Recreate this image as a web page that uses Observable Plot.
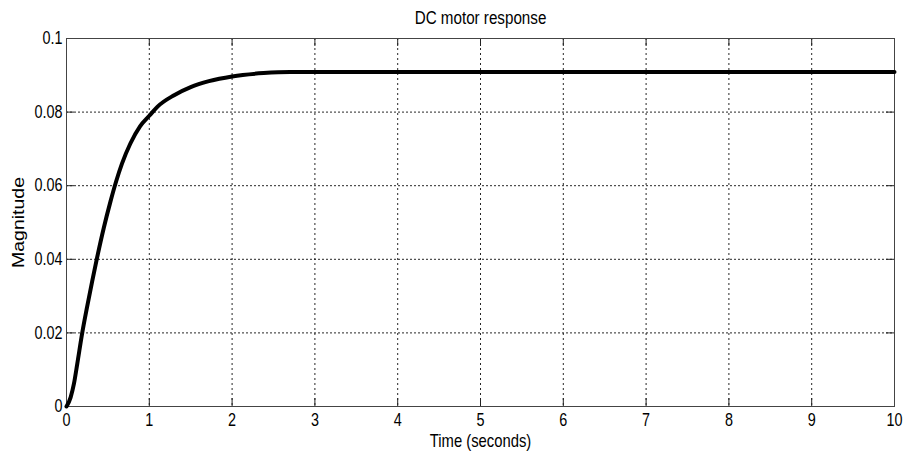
<!DOCTYPE html>
<html>
<head>
<meta charset="utf-8">
<script src="https://cdn.jsdelivr.net/npm/d3@7"></script>
<script src="https://cdn.jsdelivr.net/npm/@observablehq/plot@0.6"></script>
<style>
  html, body { margin: 0; padding: 0; background: #fff; overflow: hidden; }
</style>
</head>
<body>
<div id="chart"></div>
<script>
// Step response
const timeSeconds = [0, 0.05, 0.09, 0.13, 0.19, 0.25, 0.31, 0.37, 0.45, 0.53, 0.60, 0.67, 0.77, 0.89, 1.00, 1.10, 1.30, 1.50, 1.72, 2.00, 2.38, 2.70, 3.00, 4, 5, 6, 7, 8, 9, 10];
const magnitude   = [0, 0.0025, 0.0062, 0.0116, 0.0200, 0.0272, 0.0340, 0.0405, 0.0485, 0.0556, 0.0612, 0.0660, 0.0714, 0.0762, 0.0790, 0.0815, 0.0846, 0.0868, 0.0884, 0.0897, 0.0906, 0.0909, 0.0909, 0.0909, 0.0909, 0.0909, 0.0909, 0.0909, 0.0909, 0.0909];

const xTicks = [0, 1, 2, 3, 4, 5, 6, 7, 8, 9, 10];
const xTickLabels = ["0", "1", "2", "3", "4", "5", "6", "7", "8", "9", "10"];
const yTicks = [0, 0.02, 0.04, 0.06, 0.08, 0.1];
const yTickLabels = ["0", "0.02", "0.04", "0.06", "0.08", "0.1"];
const xGrid = [1, 2, 3, 4, 5, 6, 7, 8, 9];
const yGrid = [0.02, 0.04, 0.06, 0.08];

const titleText = "DC motor response";
const xLabel = "Time (seconds)";
const yLabel = "Magnitude";

const data = timeSeconds.map((t, i) => ({t, v: magnitude[i]}));

const W = 910, H = 458;
const mL = 66, mR = 16, mT = 38, mB = 52;
const frameW = W - mL - mR, frameH = H - mT - mB;
const tickLen = 8;

const chart = Plot.plot({
  width: W,
  height: H,
  marginLeft: mL,
  marginRight: mR,
  marginTop: mT,
  marginBottom: mB,
  style: {
    fontFamily: "'Liberation Sans', Arial, sans-serif",
    fontSize: "18px",
    background: "#fff",
    color: "#000"
  },
  x: {domain: [0, 10]},
  y: {domain: [0, 0.1]},
  marks: [
    Plot.ruleX(xGrid, {x: d => d, stroke: "#000", strokeWidth: 1, strokeDasharray: "2,3", strokeOpacity: 0.85}),
    Plot.ruleY(yGrid, {y: d => d, stroke: "#000", strokeWidth: 1, strokeDasharray: "2,2", strokeOpacity: 0.85}),
    // inward tick marks on all four sides
    Plot.tickX(xTicks, {x: d => d, insetTop: frameH - tickLen, stroke: "#222"}),
    Plot.tickX(xTicks, {x: d => d, insetBottom: frameH - tickLen, stroke: "#222"}),
    Plot.tickY(yTicks, {y: d => d, insetRight: frameW - tickLen, stroke: "#222"}),
    Plot.tickY(yTicks, {y: d => d, insetLeft: frameW - tickLen, stroke: "#222"}),
    Plot.frame({stroke: "#444"}),
    Plot.line(data, {x: "t", y: "v", stroke: "#000", strokeWidth: 4, curve: "monotone-x"}),
    Plot.axisX({ticks: xTicks, tickFormat: d => xTickLabels[xTicks.indexOf(d)], tickSize: 0, tickPadding: 7, label: null}),
    Plot.axisY({ticks: yTicks, tickFormat: d => yTickLabels[yTicks.indexOf(d)], tickSize: 0, tickPadding: 4, label: null}),
    Plot.text([titleText], {text: d => d, frameAnchor: "top", dy: -21, textAnchor: "middle", lineAnchor: "middle", fontSize: 19}),
    Plot.text([xLabel], {text: d => d, frameAnchor: "bottom", dy: 35, textAnchor: "middle", lineAnchor: "middle", fontSize: 18.5}),
    Plot.text([yLabel], {text: d => d, frameAnchor: "left", dx: -47, rotate: -90, textAnchor: "middle", lineAnchor: "middle", fontSize: 19.5})
  ]
});
document.getElementById("chart").append(chart);

// The reference's lettering is horizontally condensed; squeeze each text around its anchor.
const squeeze = 0.8;
chart.querySelectorAll("text").forEach(t => {
  const r = t.getBoundingClientRect();
  const anchor = getComputedStyle(t).textAnchor;
  const sx = anchor === "end" ? r.right : anchor === "start" ? r.left : r.left + r.width / 2;
  const parent = t.parentNode;
  const p = chart.createSVGPoint();
  p.x = sx; p.y = r.top;
  const q = p.matrixTransform(parent.getScreenCTM().inverse());
  const g = document.createElementNS("http://www.w3.org/2000/svg", "g");
  g.setAttribute("transform", `translate(${q.x},0) scale(${squeeze},1) translate(${-q.x},0)`);
  parent.insertBefore(g, t);
  g.appendChild(t);
});
</script>
</body>
</html>
